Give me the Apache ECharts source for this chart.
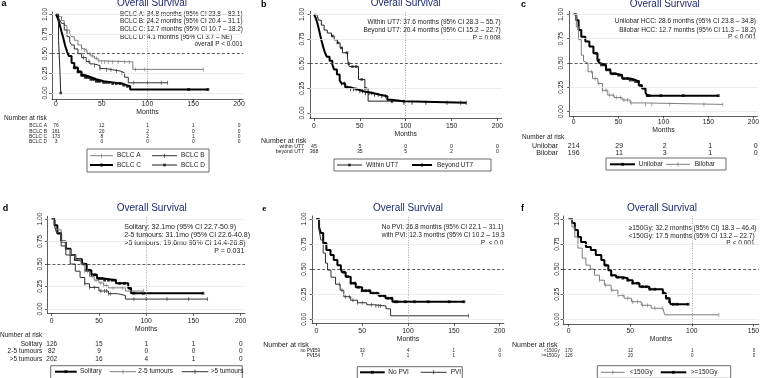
<!DOCTYPE html>
<html>
<head>
<meta charset="utf-8">
<script src="https://cdn.jsdelivr.net/npm/echarts@6.0.0/dist/echarts.min.js"></script>
<style>
  html, body { margin: 0; padding: 0; background: #fff; }
  #main { width: 762px; height: 378px; }
</style>
</head>
<body>
<div id="main"></div>
<script>
var FONT = '"Liberation Sans", Arial, sans-serif';
var xTicks200 = [0, 50, 100, 150, 200];
var xTicks150 = [0, 50, 100, 150];
var yTicks = [0, 0.25, 0.5, 0.75, 1];

// a - BCLC stage
var bclcA = [[0,1],[3,0.97],[6,0.92],[9,0.86],[12,0.8],[15,0.75],[17,0.715],[20,0.67],[24,0.61],[28,0.57],[30,0.545],[34,0.5],[38,0.47],[42,0.44],[46,0.41],[48,0.395],[84,0.3],[161,0.3]];
var bclcB = [[0,1],[2,0.97],[4,0.93],[6,0.885],[9,0.8],[12,0.715],[15,0.65],[17,0.61],[20,0.56],[24,0.5],[28,0.45],[33,0.4],[37,0.37],[41,0.35],[48,0.31],[55,0.295],[62,0.28],[70,0.255],[75,0.2],[79,0.13],[122,0.13]];
var bclcC = [[0,1],[2,0.95],[4,0.87],[6,0.78],[8,0.7],[10,0.6],[12,0.53],[14,0.47],[17,0.38],[20,0.32],[24,0.27],[28,0.225],[32,0.2],[38,0.175],[44,0.15],[52,0.135],[62,0.12],[72,0.1],[77,0.085],[81,0.045],[166,0.045]];
var bclcD = [[0,1],[2.8,0.667],[4.1,0.333],[5.2,0],[5.3,0]];
var bclcACens = [28,31,33,37,40,44,47,50,53,57,62,68,75,80,87,97,161];
var bclcBCens = [30,36,42,48,55,60,66,72,85,100,115,122];
var bclcCCens = [20,22,24,26,28,30,32,34,36,38,40,42,44,46,48,52,55,58,62,66,70,74,78,145,166];
var bclcDCens = [5.2];
var riskLabA = ['BCLC A', 'BCLC B', 'BCLC C', 'BCLC D'];
var riskA = [[76,12,1,1,0],[161,20,2,0,0],[173,8,2,1,0],[3,0,0,0,0]];

// b - up-to-seven
var withinUT7 = [[0,1],[3,0.98],[5,0.94],[8,0.89],[11,0.84],[14.5,0.81],[19,0.78],[22,0.74],[25.5,0.71],[28.5,0.66],[31,0.61],[36.5,0.555],[37.6,0.5],[38.5,0.47],[48.5,0.34],[55.5,0.25],[59,0.12],[98,0.12]];
var beyondUT7 = [[0,1],[2,0.96],[4,0.9],[6,0.82],[8,0.74],[10,0.67],[12,0.61],[14,0.57],[17,0.53],[20,0.49],[22,0.44],[25,0.39],[28,0.33],[30,0.3],[34,0.26],[40,0.24],[47,0.22],[54,0.2],[65,0.185],[72,0.17],[80,0.135],[84,0.12],[98,0.105],[166,0.105]];
var withinCens = [20,26,30,36,38,42,46,52,56,85,98];
var beyondCens = [30,33,36,40,43,46,50,53,56,60,63,66,70,74,78,85,98,107,122,145,160,166];
var riskLabB = ['within UT7', 'beyond UT7'];
var riskB = [[45,5,0,0,0],[368,35,5,2,0]];

// c - lobar distribution
var unilobar = [[0,1],[3,0.94],[5.5,0.84],[8.5,0.77],[13,0.72],[17.5,0.67],[22,0.6],[26.5,0.53],[28.6,0.5],[30.5,0.48],[36,0.43],[41,0.39],[47,0.375],[54,0.34],[63,0.325],[69,0.31],[72.5,0.27],[76,0.24],[80,0.195],[82,0.165],[161,0.165]];
var bilobar = [[0,1],[3,0.87],[5.5,0.74],[8.5,0.58],[11,0.52],[12.7,0.5],[16,0.41],[21,0.34],[27,0.29],[32,0.22],[38,0.17],[45,0.145],[54,0.12],[63,0.09],[78,0.075],[166,0.075]];
var unilobarCens = [25,28,31,34,37,40,43,46,50,53,56,60,63,66,69,72,75,78,82,84,97,122,161];
var bilobarCens = [20,24,28,32,36,40,44,48,52,56,60,64,80,87,107,145,166];
var riskLabC = ['Unilobar', 'Bilobar'];
var riskC = [[214,29,2,1,0],[196,11,3,1,0]];

// d - tumour number
var solitary = [[0,1],[3,0.93],[6,0.84],[10,0.75],[15,0.67],[20,0.6],[25,0.55],[32,0.5],[37,0.43],[42,0.38],[48,0.34],[55,0.32],[68,0.285],[81,0.23],[84,0.175],[160,0.175]];
var tum25 = [[0,1],[3,0.92],[5,0.88],[10,0.75],[15,0.66],[20,0.6],[25,0.55],[31,0.5],[35,0.42],[40,0.36],[45,0.32],[50,0.29],[55,0.26],[60,0.235],[78,0.2],[97,0.2]];
var tum5 = [[0,1],[3,0.92],[5,0.85],[10,0.7],[15,0.6],[19.6,0.5],[25,0.42],[30,0.35],[35,0.28],[40,0.24],[50,0.2],[60,0.17],[70,0.15],[78,0.11],[165,0.11]];
var solitaryCens = [25,28,31,34,37,40,43,46,50,53,56,60,64,67,72,77,83,87,97,160];
var tum25Cens = [30,35,38,43,47,52,55,58,65,75,97];
var tum5Cens = [35,40,45,52,56,58,60,62,87,100,122,145,165];
var riskLabD = ['Solitary', '2-5 tumours', '>5 tumours'];
var riskD = [[126,15,1,1,0],[82,9,0,0,0],[202,16,4,1,0]];

// e - portal vein invasion
var noPVI = [[0,1],[3,0.92],[5,0.86],[7.5,0.76],[11,0.69],[15.5,0.64],[19,0.59],[23,0.54],[26.8,0.5],[28,0.47],[32,0.425],[37.5,0.36],[43,0.32],[50,0.285],[59,0.26],[68,0.235],[75.5,0.21],[83,0.175],[161,0.175]];
var withPVI = [[0,1],[3,0.89],[5,0.79],[7.5,0.66],[10,0.56],[12.3,0.49],[16,0.42],[21,0.35],[26,0.29],[30,0.225],[37.5,0.19],[45,0.165],[55,0.145],[62,0.133],[76,0.105],[81,0.035],[166,0.035]];
var noPVICens = [30,34,38,42,46,50,54,58,62,66,70,74,78,82,86,88,97,107,122,145,161];
var withPVICens = [25,28,32,36,40,45,50,60,65,68,70,166];
var riskLabE = ['no PVI', 'PVI'];
var riskE = [[259,33,4,1,0],[154,7,1,1,0]];

// f - dose
var doseHigh = [[0,1],[2.7,0.96],[5,0.89],[7.5,0.82],[10,0.77],[14,0.72],[18,0.69],[22,0.64],[26.5,0.59],[29,0.54],[32.2,0.49],[34.5,0.44],[38.5,0.42],[44,0.41],[48,0.39],[52,0.36],[57.5,0.325],[65.5,0.3],[76.5,0.26],[79,0.21],[82,0.175],[83,0.15],[97,0.15]];
var doseLow = [[0,1],[2.7,0.92],[5,0.82],[7.5,0.71],[11,0.61],[14,0.54],[17.5,0.5],[21,0.44],[25,0.39],[29,0.34],[34.5,0.29],[40,0.24],[45,0.21],[51,0.175],[59,0.14],[67,0.11],[76.5,0.093],[78,0.045],[122,0.045]];
var doseHighCens = [30,35,40,44,48,52,56,60,63,66,70,77,80,82,85,88,97];
var doseLowCens = [25,30,35,40,44,48,52,56,60,64,70,76,122];
var riskLabF = ['<150Gy', '>=150Gy'];
var riskF = [[170,12,1,0],[126,20,0,0]];

var styles = {
    grayTick: { color: '#7d7d7d', width: 1, sym: 'rect', size: [0.8, 4] },
    darkTick: { color: '#333', width: 1, sym: 'rect', size: [0.8, 4] },
    blackTick: { color: '#000', width: 2, sym: 'rect', size: [0.9, 4] },
    blackDot: { color: '#000', width: 2, sym: 'rect', size: [2.8, 2.8] },
    darkSquare: { color: '#222', width: 1, sym: 'rect', size: [2.6, 2.6] }
};

var panels = [{
    x0: 56, k: 0.915, y1: 14.3, y0: 93, axisY: 99.3, xmax: 200, vline: true,
    lblMargin: 1.3, nameGap: 8.3, yMargin: 3.3,
    letter: ['a', 1.5, 4], title: [152, 3.5],
    curves: [
        { data: bclcA, cens: bclcACens, st: 'grayTick', name: 'BCLC A' },
        { data: bclcB, cens: bclcBCens, st: 'darkTick', name: 'BCLC B' },
        { data: bclcC, cens: bclcCCens, st: 'blackDot', name: 'BCLC C' },
        { data: bclcD, cens: bclcDCens, st: 'darkSquare', name: 'BCLC D' }
    ],
    notes: [
        ['BCLC A: 34.8 months (95% CI 23.8 – 83.1)', 120, 14, 'left'],
        ['BCLC B: 24.2 months (95% CI 20.4 – 31.1)', 120, 21.7, 'left'],
        ['BCLC C: 12.7 months (95% CI 10.7 – 18.2)', 120, 29.3, 'left'],
        ['BCLC D: 4.1 months (95% CI 3.7 – NE)', 120, 37, 'left'],
        ['overall P < 0.001', 242.7, 44.7, 'right']
    ],
    noteFs: 6.4,
    risk: { labels: riskLabA, rows: riskA, nar: [4, 118], ys: [126, 131.3, 136.7, 142], right: 47, fs: 4.9, narFs: 6.6 },
    legend: { box: [87, 149, 122, 23], items: [[0, 90, 113, 117, 155.7], [1, 152, 177, 181, 155.7], [2, 90, 113, 117, 165], [3, 152, 177, 181, 165]] }
}, {
    x0: 314, k: 0.917, y1: 14.3, y0: 113, axisY: 118.5, xmax: 200, vline: true,
    lblMargin: 4.5, nameGap: 10, yMargin: 4.5,
    letter: ['b', 261, 4.5], title: [405.7, 3.5],
    curves: [
        { data: withinUT7, cens: withinCens, st: 'darkSquare', name: 'Within UT7' },
        { data: beyondUT7, cens: beyondCens, st: 'blackTick', name: 'Beyond UT7' }
    ],
    notes: [
        ['Within UT7: 37.6 months (95% CI 28.3 – 55.7)', 500.7, 22.7, 'right'],
        ['Beyond UT7: 20.4 months (95% CI 15.2 – 22.7)', 500.7, 30.7, 'right'],
        ['P = 0.008', 500.7, 38.7, 'right']
    ],
    noteFs: 6.5,
    risk: { labels: riskLabB, rows: riskB, nar: [261, 140.7], ys: [146.7, 151.7], right: 304, fs: 5.2, narFs: 7 },
    legend: { box: [334, 159, 157, 12], items: [[0, 337, 362, 366, 165], [1, 412, 432, 437, 165]] }
}, {
    x0: 573.7, k: 0.910, y1: 14.3, y0: 111.7, axisY: 116, xmax: 200, vline: false,
    lblMargin: 2.3, nameGap: 7.6, yMargin: 5,
    letter: ['c', 521, 4.5], title: [664.7, 4],
    curves: [
        { data: unilobar, cens: unilobarCens, st: 'blackDot', name: 'Unilobar' },
        { data: bilobar, cens: bilobarCens, st: 'grayTick', name: 'Bilobar' }
    ],
    notes: [
        ['Unilobar HCC: 28.6 months (95% CI 23.8 – 34.8)', 756, 21.7, 'right'],
        ['Bilobar HCC: 12.7 months (95% CI 11.3 – 18.2)', 756, 30, 'right'],
        ['P < 0.001', 756, 37.7, 'right']
    ],
    noteFs: 6.5,
    risk: { labels: riskLabC, rows: riskC, nar: [522, 137.3], ys: [145.7, 153.3], right: 558, fs: 7, narFs: 6.5 },
    legend: { box: [606, 158, 120, 12], items: [[0, 610, 635, 638.7, 164.3], [1, 666, 690, 694.7, 164.3]] }
}, {
    x0: 51.7, k: 0.945, y1: 219, y0: 309, axisY: 313.3, xmax: 200, vline: true,
    lblMargin: 4.3, nameGap: 10, yMargin: 4,
    letter: ['d', 2.7, 208.3], title: [151.7, 208.3],
    curves: [
        { data: solitary, cens: solitaryCens, st: 'blackDot', name: 'Solitary' },
        { data: tum25, cens: tum25Cens, st: 'grayTick', name: '2-5 tumours' },
        { data: tum5, cens: tum5Cens, st: 'darkTick', name: '>5 tumours' }
    ],
    notes: [
        ['Solitary: 32.1mo (95% CI 22.7-50.9)', 124.3, 227.3, 'left'],
        ['2-5 tumours: 31.1mo (95% CI 22.6-40.8)', 124.3, 235, 'left'],
        ['>5 tumours: 19.6mo 95% CI 14.4-26.8)', 124.3, 242.7, 'left'],
        ['P = 0.031', 244.3, 250.7, 'right']
    ],
    noteFs: 7,
    risk: { labels: riskLabD, rows: riskD, nar: [0, 335.7], ys: [344, 351.7, 359.3], right: 42.3, fs: 6.5, narFs: 6.5 },
    legend: { box: [50.7, 365.7, 191.6, 13], items: [[0, 55, 76.7, 80, 371.7], [1, 110, 136, 138.3, 371.7], [2, 181.7, 208.3, 210.7, 371.7]] }
}, {
    x0: 316.3, k: 0.917, y1: 219, y0: 319.3, axisY: 323.3, xmax: 200, vline: true,
    lblMargin: 4, nameGap: 10, yMargin: 5,
    letter: ['e', 262.3, 208.3], title: [408, 208.3],
    curves: [
        { data: noPVI, cens: noPVICens, st: 'blackDot', name: 'No PVI' },
        { data: withPVI, cens: withPVICens, st: 'darkTick', name: 'PVI' }
    ],
    notes: [
        ['No PVI: 26.8 months (95% CI 22.1 – 31.1)', 381.7, 227.7, 'left', 125],
        ['with PVI: 12.3 months (95% CI 10.2 – 19.3)', 381.7, 235.7, 'left', 125],
        ['P  < 0.001', 480.7, 243.3, 'left', 26]
    ],
    noteFs: 6.5,
    risk: { labels: riskLabE, rows: riskE, nar: [263.3, 345], ys: [351, 355.7], right: 314, fs: 4.5, narFs: 7 },
    legend: { box: [357.3, 366.7, 105, 12], items: [[0, 360, 384.7, 388.3, 372.3], [1, 420.7, 446.7, 450.7, 372.3]] }
}, {
    x0: 568.7, k: 1.235, y1: 219, y0: 319.3, axisY: 324, xmax: 150, vline: true,
    lblMargin: 3.3, nameGap: 9.3, yMargin: 2.5,
    letter: ['f', 521, 208.3], title: [662, 208.3],
    curves: [
        { data: doseHigh, cens: doseHighCens, st: 'blackDot', name: '>=150Gy' },
        { data: doseLow, cens: doseLowCens, st: 'grayTick', name: '<150Gy' }
    ],
    notes: [
        ['≥150Gy: 32.2 months (95% CI) 18.3 – 46.4)', 628.7, 227.7, 'left'],
        ['<150Gy: 17.5 months (95% CI 13.2 – 22.7)', 628.7, 235.7, 'left'],
        ['P < 0.001', 754.7, 243.3, 'right']
    ],
    noteFs: 6.6,
    risk: { labels: riskLabF, rows: riskF, nar: [512, 345], ys: [351, 355.7], right: 559.7, fs: 4.5, narFs: 7 },
    legend: { box: [597.3, 365.7, 133.4, 12.6], items: [[1, 601, 624.7, 629.7, 372.3], [0, 660.7, 686.3, 690.7, 372.3]] }
}];

function survAt(curve, m) {
    var s = curve[0][1];
    for (var i = 0; i < curve.length; i++) {
        if (curve[i][0] <= m) s = curve[i][1];
    }
    return s;
}

function txt(x, y, text, fs, align, extra) {
    var style = {
        text: text, fontSize: fs, fontFamily: FONT, fill: '#1a1a1a',
        align: align || 'left', verticalAlign: 'middle'
    };
    for (var key in extra) style[key] = extra[key];
    return { type: 'text', x: x, y: y, silent: true, style: style };
}

function init_KM() {
    var dom = document.getElementById('main');
    var myChart = echarts.init(dom, null, { renderer: 'canvas' });
    var grids = [], xAxes = [], yAxes = [], series = [], graphics = [];
    var gridLine = { color: '#e4e9ee', width: 0.8, type: 'solid' };

    panels.forEach(function(p, i) {
        var u = p.y0 - p.y1;
        var ymin = -(p.axisY - p.y0) / u;
        var ticks = p.xmax == 150 ? xTicks150 : xTicks200;
        grids.push({
            left: p.x0 - 4.5 * p.k,
            top: p.y1 - 0.03 * u,
            width: (p.xmax + 9) * p.k,
            height: (1.03 - ymin) * u
        });
        xAxes.push({
            gridIndex: i, type: 'value', min: -4.5, max: p.xmax + 4.5,
            name: 'Months', nameLocation: 'middle', nameGap: p.nameGap,
            nameTextStyle: { fontSize: 6.8, fontFamily: FONT, color: '#1a1a1a' },
            axisLine: { onZero: false, lineStyle: { color: '#333', width: 0.8 } },
            axisTick: { customValues: ticks, length: 2.5, lineStyle: { color: '#333', width: 0.8 } },
            axisLabel: { customValues: ticks, fontSize: 6.8, fontFamily: FONT, color: '#1a1a1a', margin: p.lblMargin },
            splitLine: { show: false }
        });
        yAxes.push({
            gridIndex: i, type: 'value', min: ymin, max: 1.03,
            axisLine: { onZero: false, lineStyle: { color: '#333', width: 0.8 } },
            axisTick: { customValues: yTicks, length: 2.5, lineStyle: { color: '#333', width: 0.8 } },
            axisLabel: {
                customValues: yTicks, rotate: 90, fontSize: 6.8, fontFamily: FONT, color: '#1a1a1a', margin: p.yMargin,
                formatter: function(v) { return v.toFixed(2); }
            },
            splitLine: { show: false }
        });

        // reference lines: faint grid, median line, 100 months
        var ml = [];
        yTicks.forEach(function(t) {
            if (t != 0.5) ml.push({ yAxis: t, lineStyle: gridLine });
        });
        ml.push({ yAxis: 0.5, lineStyle: { color: '#333', width: 0.8, type: [3, 2] } });
        if (p.vline) ml.push({ xAxis: 100, lineStyle: { color: '#8a8a8a', width: 0.8, type: [1, 1.5] } });
        series.push({
            type: 'line', xAxisIndex: i, yAxisIndex: i, data: [[0, 1]], showSymbol: false, symbol: 'none',
            lineStyle: { opacity: 0 }, silent: true, z: 1, animation: false,
            markLine: { symbol: 'none', silent: true, animation: false, label: { show: false }, data: ml }
        });

        p.curves.forEach(function(c, j) {
            var st = styles[c.st];
            series.push({
                type: 'line', xAxisIndex: i, yAxisIndex: i, data: c.data, step: 'end',
                showSymbol: false, symbol: 'none', silent: true, animation: false, z: 3 + j,
                lineStyle: { color: st.color, width: st.width }
            });
            if (c.cens.length) {
                series.push({
                    type: 'scatter', xAxisIndex: i, yAxisIndex: i, silent: true, animation: false, z: 3 + j,
                    data: c.cens.map(function(m) { return [m, survAt(c.data, m)]; }),
                    symbol: st.sym, symbolSize: st.size, itemStyle: { color: st.color }
                });
            }
        });

        // title and panel letter
        graphics.push(txt(p.title[0], p.title[1], 'Overall Survival', 10, 'center', { fill: '#1f2a6e' }));
        graphics.push(txt(p.letter[1], p.letter[2], p.letter[0], 9, 'left', {
            fontWeight: 'bold', fill: '#000',
            fontFamily: p.letter[0] == 'e' ? '"Liberation Serif", serif' : FONT
        }));

        // medians text
        p.notes.forEach(function(n) {
            var extra = {};
            if (n[4]) { extra.width = n[4]; extra.overflow = 'truncate'; extra.ellipsis = ''; }
            graphics.push(txt(n[1], n[2], n[0], p.noteFs, n[3], extra));
        });

        // number at risk table
        var r = p.risk;
        graphics.push(txt(r.nar[0], r.nar[1], 'Number at risk', r.narFs, 'left'));
        r.rows.forEach(function(row, j) {
            graphics.push(txt(r.right, r.ys[j], r.labels[j], r.fs, 'right'));
            row.forEach(function(v, t) {
                graphics.push(txt(p.x0 + p.k * ticks[t], r.ys[j], String(v), r.fs, 'center'));
            });
        });

        // legend box
        var lg = p.legend;
        graphics.push({
            type: 'rect', silent: true, z: 10,
            shape: { x: lg.box[0], y: lg.box[1], width: lg.box[2], height: lg.box[3] },
            style: { fill: '#fff', stroke: '#444', lineWidth: 0.8 }
        });
        lg.items.forEach(function(it) {
            var c = p.curves[it[0]];
            var st = styles[c.st];
            graphics.push({
                type: 'line', silent: true, z: 11,
                shape: { x1: it[1], y1: it[4], x2: it[2], y2: it[4] },
                style: { stroke: st.color, lineWidth: st.width }
            });
            var mx = (it[1] + it[2]) / 2;
            graphics.push({
                type: 'rect', silent: true, z: 11,
                shape: { x: mx - st.size[0] / 2, y: it[4] - st.size[1] / 2, width: st.size[0], height: st.size[1] },
                style: { fill: st.color }
            });
            var t = txt(it[3], it[4], c.name, 6.5, 'left');
            t.z = 11;
            graphics.push(t);
        });
    });

    var option = {
        animation: false,
        backgroundColor: '#fff',
        grid: grids,
        xAxis: xAxes,
        yAxis: yAxes,
        series: series,
        graphic: { elements: graphics }
    };
    myChart.setOption(option, true);
}

init_KM();
</script>
</body>
</html>
